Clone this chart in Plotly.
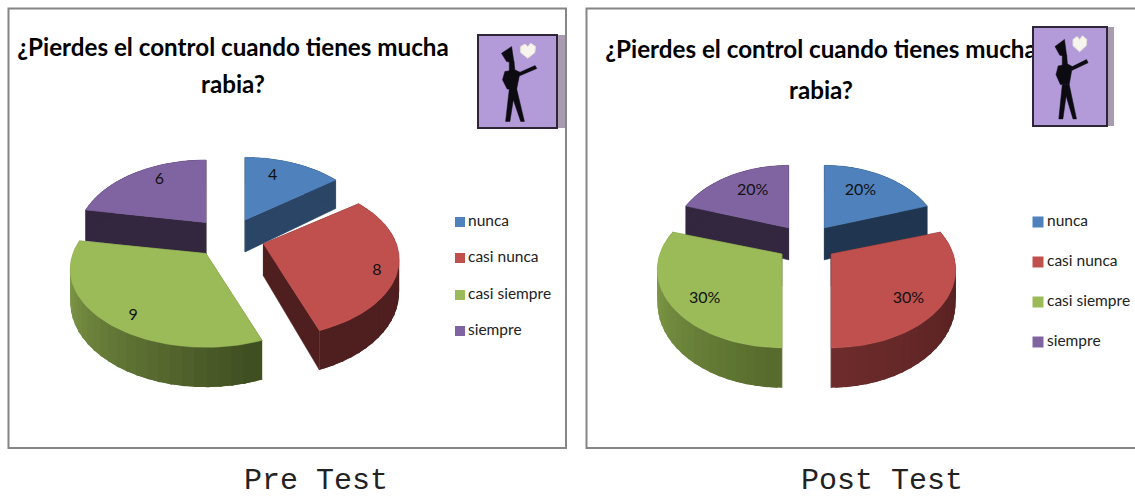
import math
import plotly.graph_objects as go

categories = ["nunca", "casi nunca", "casi siempre", "siempre"]
pre_values = [4, 8, 9, 6]
post_values = [20, 30, 30, 20]
pre_labels = ["4", "8", "9", "6"]
post_labels = ["20%", "30%", "30%", "20%"]
title_lines = ["¿Pierdes el control cuando tienes mucha", "rabia?"]
captions = ["Pre Test", "Post Test"]

TOP = ["#4f81bd", "#c0504d", "#9bbb59", "#8064a2"]
NARROW = "Lato, Liberation Sans"
K = 0.2


def hex2rgb(h):
    return [int(h[i:i + 2], 16) for i in (1, 3, 5)]


def mix(a, b, t):
    a, b = hex2rgb(a), hex2rgb(b)
    return "rgb(%d,%d,%d)" % tuple(round(a[i] + (b[i] - a[i]) * t) for i in range(3))


def poly(fig, xs, ys, color, lw=0.6):
    fig.add_trace(go.Scatter(x=xs, y=ys, mode="lines", fill="toself", fillcolor=color,
                             line=dict(color=color, width=lw), hoverinfo="skip", showlegend=False))


def pie3d(fig, values, labels, cfg):
    total = sum(values)
    spans, a = [], 0.0
    for v in values:
        spans.append((a, a + v / total * 360))
        a += v / total * 360
    cx, cy, rx, ry, depth, e = (cfg[k] for k in ("cx", "cy", "rx", "ry", "depth", "e"))

    def geom(i):
        t0, t1 = spans[i]
        mid = math.radians((t0 + t1) / 2)
        ax = cx + e * rx * math.sin(mid)
        ay = cy - e * ry * math.cos(mid)
        rs = cfg["rs"][i]

        def pt(theta, rfx=1.0, rfy=1.0):
            th = math.radians(theta)
            u, v = math.sin(th), math.cos(th)
            s = 1 / (1 + K * v)
            return ax + rfx * rs * rx * u * s, ay - rfy * ry * v * s, s
        return t0, t1, ax, ay, pt

    # painter's order: back slices first
    for i in (0, 3, 1, 2):
        t0, t1, ax, ay, pt = geom(i)
        for theta in (t0, t1):
            x, y, s = pt(theta)
            poly(fig, [ax, x, x, ax, ax], [ay, y, y + depth * s, ay + depth, ay], cfg["side"][i])
        n = 28
        order = range(n) if cfg["wall_dir"][i] else range(n - 1, -1, -1)
        for j in order:
            a0 = t0 + (t1 - t0) * max(j - 0.6, 0) / n
            a1 = t0 + (t1 - t0) * min(j + 1.6, n) / n
            x0, y0, s0 = pt(a0)
            x1, y1, s1 = pt(a1)
            c = mix(cfg["wall"][i][0], cfg["wall"][i][1], (j + .5) / n)
            poly(fig, [x0, x1, x1, x0, x0], [y0, y1, y1 + depth * s1, y0 + depth * s0, y0], c, lw=0)
        xs, ys = [ax], [ay]
        for j in range(61):
            x, y, _ = pt(t0 + (t1 - t0) * j / 60)
            xs.append(x)
            ys.append(y)
        xs.append(ax)
        ys.append(ay)
        poly(fig, xs, ys, TOP[i])
    lx, ly = [], []
    for i in range(4):
        t0, t1, ax, ay, pt = geom(i)
        x, y, _ = pt((t0 + t1) / 2, *cfg["lr"][i])
        lx.append(x)
        ly.append(y)
    fig.add_trace(go.Scatter(x=lx, y=ly, text=labels, mode="text", showlegend=False, hoverinfo="skip", cliponaxis=False,
                             textfont=dict(family=NARROW, size=16, color="#111111")))


def legend(fig, x, ys, sw, gap):
    for i, c in enumerate(categories):
        fig.add_trace(go.Scatter(x=[x], y=[ys[i]], mode="markers", showlegend=False, hoverinfo="skip",
                                 marker=dict(symbol="square", size=sw, color=TOP[i])))
        fig.add_trace(go.Scatter(x=[x + gap], y=[ys[i]], text=[c], mode="text", textposition="middle right",
                                 showlegend=False, hoverinfo="skip", cliponaxis=False,
                                 textfont=dict(family=NARROW, size=15.5, color="#222222")))


def icon(shapes, x0, x1, y0, y1, strip):
    def P(points):
        return "M " + " L ".join("%.1f,%.1f" % (x0 + (x1 - x0) * (p[0] - 55) / 235,
                                                y0 + (y1 - y0) * (p[1] - 45) / 280) for p in points) + " Z"
    shapes.append(dict(type="rect", x0=x1, x1=strip, y0=y0, y1=y1, fillcolor="#a99bb0", line=dict(width=0), layer="above"))
    shapes.append(dict(type="rect", x0=x0, x1=x1, y0=y0, y1=y1, fillcolor="#b39ad8",
                       line=dict(color="#2e2636", width=2), layer="above"))
    black = [
        [(125, 100), (155, 80), (162, 128), (140, 125)],
        [(148, 125), (162, 125), (165, 155), (148, 155)],
        [(135, 155), (165, 150), (180, 157), (225, 137), (230, 146), (178, 168), (170, 208), (142, 208), (128, 180)],
        [(148, 208), (170, 208), (193, 305), (182, 305), (160, 240), (150, 305), (137, 305)],
    ]
    for pts in black:
        shapes.append(dict(type="path", path=P(pts), fillcolor="#0d0b12", line=dict(color="#0d0b12", width=0.5), layer="above"))
    heart = [(203, 115), (182, 98), (182, 80), (195, 72), (203, 80), (212, 70), (226, 80), (224, 98)]
    shapes.append(dict(type="path", path=P(heart), fillcolor="#f7f5ee", line=dict(color="#e4e0d8", width=1), layer="above"))


fig = go.Figure()

shapes = [
    dict(type="rect", x0=8.5, x1=566, y0=8.5, y1=448, line=dict(color="#868686", width=2), fillcolor="white", layer="below"),
    dict(type="rect", x0=586.5, x1=1145, y0=8.5, y1=448, line=dict(color="#868686", width=2), fillcolor="white", layer="below"),
]

side = ["#2a4565", "#4f1e1e", "#5f7530", "#33263f"]
pie3d(fig, pre_values, pre_labels, dict(
    cx=229, cy=238, rx=133, ry=75, depth=32, e=0.27, side=side, wall_dir=[1, 1, 0, 1],
    rs=[0.95, 1, 1, 0.95], lr=[(.57, .78), (.84, 1.2), (.72, .92), (.66, .85)],
    wall=[("#2a4565", "#2a4565"), ("#4f1e1e", "#4f1e1e"), ("#3f4d20", "#90ad52"), ("#33263f", "#33263f")]))
side2 = ["#1f3550", "#4f1e1e", "#5f7530", "#33263f"]
pie3d(fig, post_values, post_labels, dict(
    cx=806.5, cy=243, rx=122, ry=75, depth=32, e=0.25, side=side2, wall_dir=[1, 1, 0, 1],
    rs=[0.94, 1, 1, 0.94], lr=[(.62, .71), (.69, .91), (.69, .91), (.62, .71)],
    wall=[("#1f3550", "#1f3550"), ("#4c1c1c", "#6e2b2b"), ("#566a2c", "#90ad52"), ("#33263f", "#33263f")]))

legend(fig, 460, [222, 258, 295, 331], 10, 8)
legend(fig, 1038, [222, 262, 302, 342], 11, 9)

for cx, ys in ((233, [50, 87]), (821, [52, 93])):
    fig.add_trace(go.Scatter(x=[cx, cx], y=ys, text=title_lines, mode="text", showlegend=False, hoverinfo="skip", cliponaxis=False,
                             textfont=dict(family=NARROW, size=24.2, color="#000000", weight="bold")))

for cap, x in zip(captions, (316, 882)):
    fig.add_trace(go.Scatter(x=[x], y=[481], text=[cap], mode="text", showlegend=False, hoverinfo="skip", cliponaxis=False,
                             textfont=dict(family="Liberation Mono, Courier New", size=30, color="#222222")))

icon(shapes, 478, 557, 35, 128, 565)
icon(shapes, 1033, 1107, 27, 126, 1114)

fig.update_layout(
    width=1135, height=498, margin=dict(l=0, r=0, t=0, b=0),
    paper_bgcolor="white", plot_bgcolor="white", shapes=shapes, showlegend=False,
    xaxis=dict(range=[0, 1135], visible=False, fixedrange=True),
    yaxis=dict(range=[498, 0], visible=False, fixedrange=True),
)
fig.write_html("out.html", config=dict(displayModeBar=False),
               post_script="document.body.style.margin='0';document.documentElement.style.overflow='hidden';")
